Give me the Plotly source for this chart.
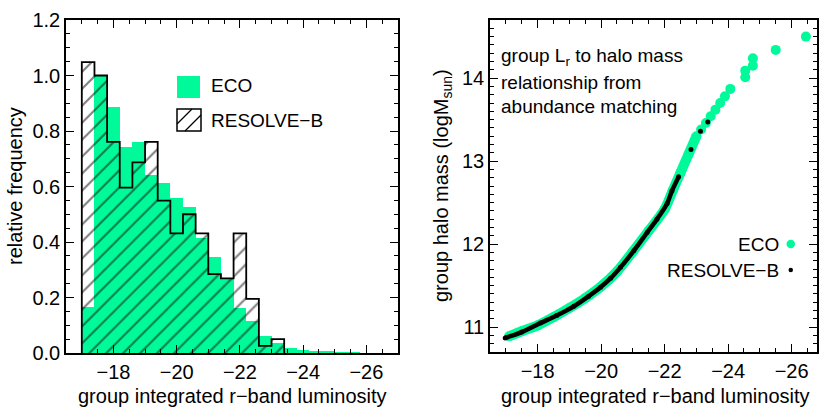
import plotly.graph_objects as go

# ---------------- data ----------------
# histogram bins (centres, group integrated r-band absolute magnitude)
bin_centers = [-17.2, -17.6, -18.0, -18.4, -18.8, -19.2, -19.6, -20.0, -20.4, -20.8,
               -21.2, -21.6, -22.0, -22.4, -22.8, -23.2, -23.6, -24.0, -24.4, -24.8,
               -25.2, -25.6]
bin_width = 0.4
eco_freq = [0.167, 1.0, 0.885, 0.743, 0.761, 0.641, 0.611, 0.557, 0.527, 0.413,
            0.347, 0.271, 0.163, 0.115, 0.062, 0.035, 0.018, 0.011, 0.006, 0.005,
            0.003, 0.002]
resolve_freq = [1.048, 1.0, 0.761, 0.596, 0.687, 0.761, 0.549, 0.431, 0.500, 0.431,
                0.284, 0.269, 0.431, 0.195, 0.026, 0.050]

# abundance-matching relation: luminosity vs halo mass
eco_lum = [-17.1, -17.5, -18.0, -18.5, -19.0, -19.5, -20.0, -20.5, -21.0, -21.5,
           -22.0, -22.25, -22.5, -22.75, -23.0,
           -23.15, -23.3, -23.45, -23.6, -23.75, -23.9, -24.07,
           -24.54, -24.54, -24.78, -24.78, -25.5, -26.45]
eco_mass = [10.89, 10.95, 11.02, 11.12, 11.23, 11.35, 11.49, 11.67, 11.91, 12.16,
            12.42, 12.64, 12.86, 13.08, 13.30,
            13.38, 13.46, 13.54, 13.62, 13.70, 13.78, 13.87,
            14.01, 14.09, 14.15, 14.24, 14.34, 14.50]
eco_dense_n = 15

resolve_lum = [-16.98, -17.5, -18.09, -18.6, -19.14, -19.6, -19.98, -20.3, -20.61, -21.03,
               -21.45, -21.76, -22.08, -22.23, -22.44, -22.83, -23.13, -23.36]
resolve_mass = [10.87, 10.94, 11.05, 11.14, 11.25, 11.37, 11.48, 11.59, 11.72, 11.92,
                12.14, 12.30, 12.49, 12.64, 12.81, 13.14, 13.36, 13.47]
resolve_dense_n = 15

GREEN = "rgb(0,250,154)"
FONT = "Liberation Sans, Arial, Helvetica, sans-serif"
W, H = 830, 415


def px(x):
    return x / W


def py(y):
    return 1 - y / H


fig = go.Figure()

# ---------- left panel: histograms ----------
fig.add_trace(go.Bar(x=bin_centers, y=eco_freq, width=bin_width,
                     marker=dict(color=GREEN, line=dict(width=0)),
                     xaxis="x", yaxis="y", showlegend=False))
n_res = len(resolve_freq)
fig.add_trace(go.Bar(x=bin_centers[:n_res], y=resolve_freq, width=bin_width,
                     marker=dict(color="rgba(0,0,0,0)", line=dict(width=0),
                                 pattern=dict(shape="/", fgcolor="black",
                                              bgcolor="rgba(0,0,0,0)",
                                              size=12, solidity=0.17)),
                     xaxis="x", yaxis="y", showlegend=False))
# step outline of RESOLVE-B histogram
sx, sy = [bin_centers[0] + bin_width / 2], [0]
for c, v in zip(bin_centers[:n_res], resolve_freq):
    sx += [c + bin_width / 2, c - bin_width / 2]
    sy += [v, v]
sx.append(bin_centers[n_res - 1] - bin_width / 2)
sy.append(0)
fig.add_trace(go.Scatter(x=sx, y=sy, mode="lines", line=dict(color="black", width=1.8),
                         xaxis="x", yaxis="y", showlegend=False, hoverinfo="skip"))

# ---------- right panel: relation ----------
fig.add_trace(go.Scatter(x=eco_lum[:eco_dense_n], y=eco_mass[:eco_dense_n], mode="lines",
                         line=dict(color=GREEN, width=10, shape="spline", smoothing=0.8),
                         xaxis="x2", yaxis="y2", showlegend=False, hoverinfo="skip"))
fig.add_trace(go.Scatter(x=eco_lum, y=eco_mass, mode="markers",
                         marker=dict(color=GREEN, size=10, line=dict(width=0)),
                         xaxis="x2", yaxis="y2", showlegend=False))
fig.add_trace(go.Scatter(x=resolve_lum[:resolve_dense_n], y=resolve_mass[:resolve_dense_n],
                         mode="lines", line=dict(color="black", width=4.5, shape="spline", smoothing=0.8),
                         xaxis="x2", yaxis="y2", showlegend=False, hoverinfo="skip"))
fig.add_trace(go.Scatter(x=resolve_lum, y=resolve_mass, mode="markers",
                         marker=dict(color="black", size=5, line=dict(width=0)),
                         xaxis="x2", yaxis="y2", showlegend=False))

axis_common = dict(showline=True, linecolor="black", linewidth=1.5, mirror="allticks",
                   ticks="inside", tickcolor="black", tickwidth=1.2, ticklen=8,
                   showgrid=False, zeroline=False, automargin=False,
                   tickfont=dict(family=FONT, size=20, color="black"))
minor_common = dict(ticks="inside", ticklen=4, tickcolor="black", tickwidth=1)

fig.update_layout(
    width=W, height=H, margin=dict(l=0, r=0, t=0, b=0, autoexpand=False),
    paper_bgcolor="white", plot_bgcolor="white", barmode="overlay", bargap=0,
    font=dict(family=FONT, size=20, color="black"),
    xaxis=dict(domain=[px(66), px(398)], range=[-16.5, -27], dtick=2, tick0=0,
               minor=dict(dtick=0.5, **minor_common), ticklabelstandoff=0,
               anchor="y", **axis_common),
    yaxis=dict(domain=[py(353), py(20)], range=[0, 1.2], dtick=0.2, tickformat=".1f",
               minor=dict(dtick=0.05, **minor_common),
               anchor="x", **axis_common),
    xaxis2=dict(domain=[px(490), px(817)], range=[-16.5, -26.8], dtick=2, tick0=0,
                minor=dict(dtick=0.5, **minor_common), ticklabelstandoff=0,
                anchor="y2", **axis_common),
    yaxis2=dict(domain=[py(352), py(20)], range=[10.7, 14.7], dtick=1,
                minor=dict(dtick=0.1, **minor_common),
                anchor="x2", **axis_common),
)

shapes = []
annotations = []


def label(text, x, y, xanchor="center", size=20, angle=0):
    annotations.append(dict(text=text, x=px(x), y=py(y), xref="paper", yref="paper",
                            xanchor=xanchor, yanchor="middle", showarrow=False,
                            textangle=angle, font=dict(size=size, family=FONT, color="black")))


# axis titles
xtitle = "group integrated r\u2212band luminosity"
label(xtitle, 232, 396)
label(xtitle, 655, 396)
label("relative frequency", 15, 186, angle=-90)
label("group halo mass (logM<sub>sun</sub>)", 442, 186, angle=-90)

# left legend
shapes.append(dict(type="rect", xref="paper", yref="paper",
                   x0=px(177), x1=px(200), y0=py(98), y1=py(76),
                   fillcolor=GREEN, line=dict(width=0)))
shapes.append(dict(type="rect", xref="paper", yref="paper",
                   x0=px(177), x1=px(201), y0=py(131), y1=py(109),
                   fillcolor="white", line=dict(color="black", width=1.5)))
shapes.append(dict(type="line", xref="paper", yref="paper",
                   x0=px(177), y0=py(124), x1=px(192), y1=py(109),
                   line=dict(color="black", width=1.3)))
shapes.append(dict(type="line", xref="paper", yref="paper",
                   x0=px(185), y0=py(131), x1=px(201), y1=py(115),
                   line=dict(color="black", width=1.3)))
label("ECO", 209, 86, xanchor="left", size=19)
label("RESOLVE\u2212B", 209, 120, xanchor="left", size=19)

# right legend
shapes.append(dict(type="circle", xref="paper", yref="paper",
                   x0=px(786.5), x1=px(795), y0=py(248.3), y1=py(239.7),
                   fillcolor=GREEN, line=dict(width=0)))
shapes.append(dict(type="circle", xref="paper", yref="paper",
                   x0=px(788.5), x1=px(793), y0=py(272.3), y1=py(267.7),
                   fillcolor="black", line=dict(width=0)))
label("ECO", 781, 244, xanchor="right", size=19)
label("RESOLVE\u2212B", 781, 270, xanchor="right", size=19)

# right panel note
for txt, yc in [("group L<sub>r</sub> to halo mass", 57),
                ("relationship from", 82),
                ("abundance matching", 106)]:
    label(txt, 499, yc, xanchor="left", size=19)

fig.update_layout(shapes=shapes, annotations=annotations)
fig.write_html("out.html", config={"displayModeBar": False},
               post_script="document.body.style.margin='0';document.body.style.overflow='hidden';")
